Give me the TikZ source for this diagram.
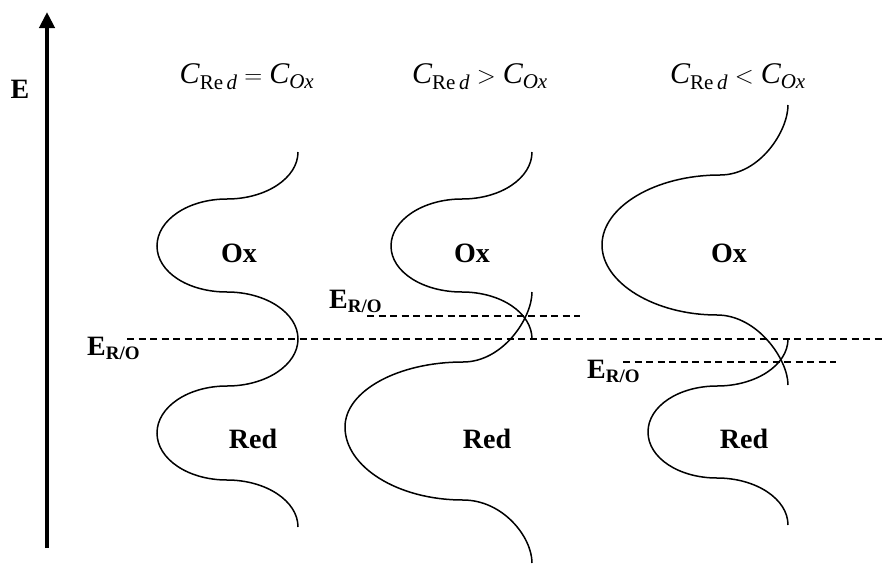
\documentclass[tikz,border=0pt]{standalone}
\usepackage{fontspec}
\setmainfont{Liberation Serif}
\usetikzlibrary{arrows.meta}
\begin{document}
\begin{tikzpicture}[x=1pt,y=-1pt,
  curve/.style={line width=1.5pt},
  dline/.style={line width=1.3pt, dash pattern=on 7pt off 4.5pt},
  lab/.style={font=\fontsize{28}{30}\selectfont\bfseries, inner sep=0pt, anchor=base},
  elab/.style={font=\fontsize{28}{30}\selectfont\bfseries, inner sep=0pt, anchor=base west},
  mlab/.style={font=\fontsize{30}{32}\selectfont, inner sep=0pt, anchor=base}]
\useasboundingbox (0,0) rectangle (889,570);
% axis
\coordinate (axb) at (47,548);
\coordinate (axt) at (47,12);
\draw[line width=4pt, -{Triangle[length=16pt,width=15pt]}] (axb) -- (axt);
\node[lab] (E) at (20,98) {E};
% top labels
\node[mlab] (t1) at (247,83) {$\mathit{C}_{\mathrm{Re}\,\mathit{d}} = \mathit{C}_{\mathit{Ox}}$};
\node[mlab] (t2) at (480,83) {$\mathit{C}_{\mathrm{Re}\,\mathit{d}} > \mathit{C}_{\mathit{Ox}}$};
\node[mlab] (t3) at (738,83) {$\mathit{C}_{\mathrm{Re}\,\mathit{d}} < \mathit{C}_{\mathit{Ox}}$};
% dashed lines
\coordinate (m0) at (127,339); \coordinate (m1) at (885,339);
\coordinate (s0) at (367,316); \coordinate (s1) at (580,316);
\coordinate (u0) at (623,362); \coordinate (u1) at (836,362);
\draw[dline] (m0) -- (m1);
\draw[dline] (s0) -- (s1);
\draw[dline] (u0) -- (u1);
% E_R/O labels
\node[elab] (e1) at (87,355) {E\raisebox{-4pt}{\fontsize{19}{20}\selectfont R/O}};
\node[elab] (e2) at (329,308) {E\raisebox{-4pt}{\fontsize{19}{20}\selectfont R/O}};
\node[elab] (e3) at (587,378) {E\raisebox{-4pt}{\fontsize{19}{20}\selectfont R/O}};
% curve 1
\draw[curve] (298,152) .. controls (298,178) and (266,199) .. (227,199)
 .. controls (188,199) and (157,220) .. (157,246)
 .. controls (157,272) and (188,292) .. (227,292)
 .. controls (266,292) and (298,313) .. (298,339)
 .. controls (298,365) and (266,386) .. (227,386)
 .. controls (188,386) and (157,407) .. (157,433)
 .. controls (157,459) and (188,480) .. (227,480)
 .. controls (266,480) and (298,501) .. (298,527);
% curve 2
\draw[curve] (532,152) .. controls (532,178) and (501,199) .. (462,199)
 .. controls (423,199) and (391,220) .. (391,246)
 .. controls (391,272) and (423,292) .. (462,292)
 .. controls (501,292) and (532,313) .. (532,339);
\draw[curve] (532,292) .. controls (532,318) and (503,362) .. (463,362)
 .. controls (398,362) and (345,391) .. (345,427)
 .. controls (345,467) and (398,500) .. (463,500)
 .. controls (503,500) and (532,537) .. (532,563);
% curve 3
\draw[curve] (788,105) .. controls (788,131) and (760,175) .. (720,175)
 .. controls (655,175) and (602,207) .. (602,245)
 .. controls (602,283) and (655,315) .. (717,315)
 .. controls (757,315) and (788,359) .. (788,385);
\draw[curve] (788,339) .. controls (788,365) and (756,386) .. (717,386)
 .. controls (679,386) and (648,406) .. (648,432)
 .. controls (648,458) and (679,478) .. (717,478)
 .. controls (756,478) and (788,499) .. (788,525);
% region labels
\node[lab] (ox1) at (239,262) {Ox};
\node[lab] (ox2) at (472,262) {Ox};
\node[lab] (ox3) at (729,262) {Ox};
\node[lab] (rd1) at (253,448) {Red};
\node[lab] (rd2) at (487,448) {Red};
\node[lab] (rd3) at (744,448) {Red};
\end{tikzpicture}
\end{document}
